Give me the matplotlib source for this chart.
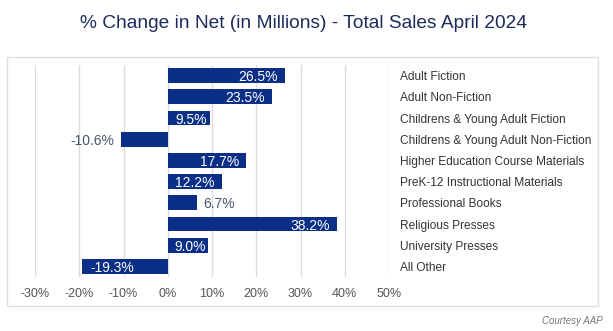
import matplotlib.pyplot as plt
from matplotlib.patches import Rectangle

categories = ['Adult Fiction', 'Adult Non-Fiction', 'Childrens & Young Adult Fiction',
              'Childrens & Young Adult Non-Fiction', 'Higher Education Course Materials',
              'PreK-12 Instructional Materials', 'Professional Books', 'Religious Presses',
              'University Presses', 'All Other']
change = [26.5, 23.5, 9.5, -10.6, 17.7, 12.2, 6.7, 38.2, 9.0, -19.3]
xticks = [-30, -20, -10, 0, 10, 20, 30, 40, 50]

navy = '#0b2f86'
plt.rcParams['font.family'] = ['Liberation Sans', 'DejaVu Sans']

fig = plt.figure(figsize=(6.13, 3.31), dpi=100, facecolor='white')

# panel frame
fig.patches.append(Rectangle((7 / 613, 1 - 306 / 331), 591 / 613, 249 / 331,
                             transform=fig.transFigure, fill=False,
                             edgecolor='#dedede', linewidth=1))

fig.text(303 / 613, 1 - 24 / 331, '% Change in Net (in Millions) - Total Sales April 2024',
         ha='center', va='center', fontsize=13.8, color='#1c2b5c')

ax = fig.add_axes([35 / 613, 1 - 277 / 331, 354 / 613, 212 / 331])
ypos = list(range(len(categories)))
ax.barh(ypos, change, height=0.7, color=navy, zorder=3)

ax.set_xlim(-30, 50)
ax.set_ylim(9.5, -0.5)
ax.set_xticks(xticks)
ax.set_xticklabels(['%d%%' % t for t in xticks])
ax.grid(axis='x', color='#dcdcdc', linewidth=1, zorder=0)
for s in ax.spines.values():
    s.set_visible(False)
ax.yaxis.tick_right()
ax.set_yticks(ypos)
ax.set_yticklabels(categories)
ax.tick_params(axis='y', length=0, pad=8, labelsize=8.6, labelcolor='#333333')
ax.tick_params(axis='x', length=0, pad=8, labelsize=9, labelcolor='#555555')

for y, v in zip(ypos, change):
    lbl = '%.1f%%' % v
    kw = dict(va='center_baseline', fontsize=10, zorder=4, textcoords='offset points')
    if v >= 12:
        ax.annotate(lbl, (v, y), xytext=(-5, 0), ha='right', color='white', **kw)
    elif v >= 8:
        ax.annotate(lbl, (v / 2, y), xytext=(1.5, 0), ha='center', color='white', **kw)
    elif v <= -15:
        ax.annotate(lbl, (v, y), xytext=(6, 0), ha='left', color='white', **kw)
    elif v < 0:
        ax.annotate(lbl, (v, y), xytext=(-5, 0), ha='right', color='#4a5470', **kw)
    else:
        ax.annotate(lbl, (v, y), xytext=(4, 0), ha='left', color='#4a5470', **kw)

fig.text(603 / 613, 1 - 321 / 331, 'Courtesy AAP', ha='right', va='center',
         fontsize=7, style='italic', color='#777777')

fig.savefig('out.png', dpi=100, facecolor='white')
